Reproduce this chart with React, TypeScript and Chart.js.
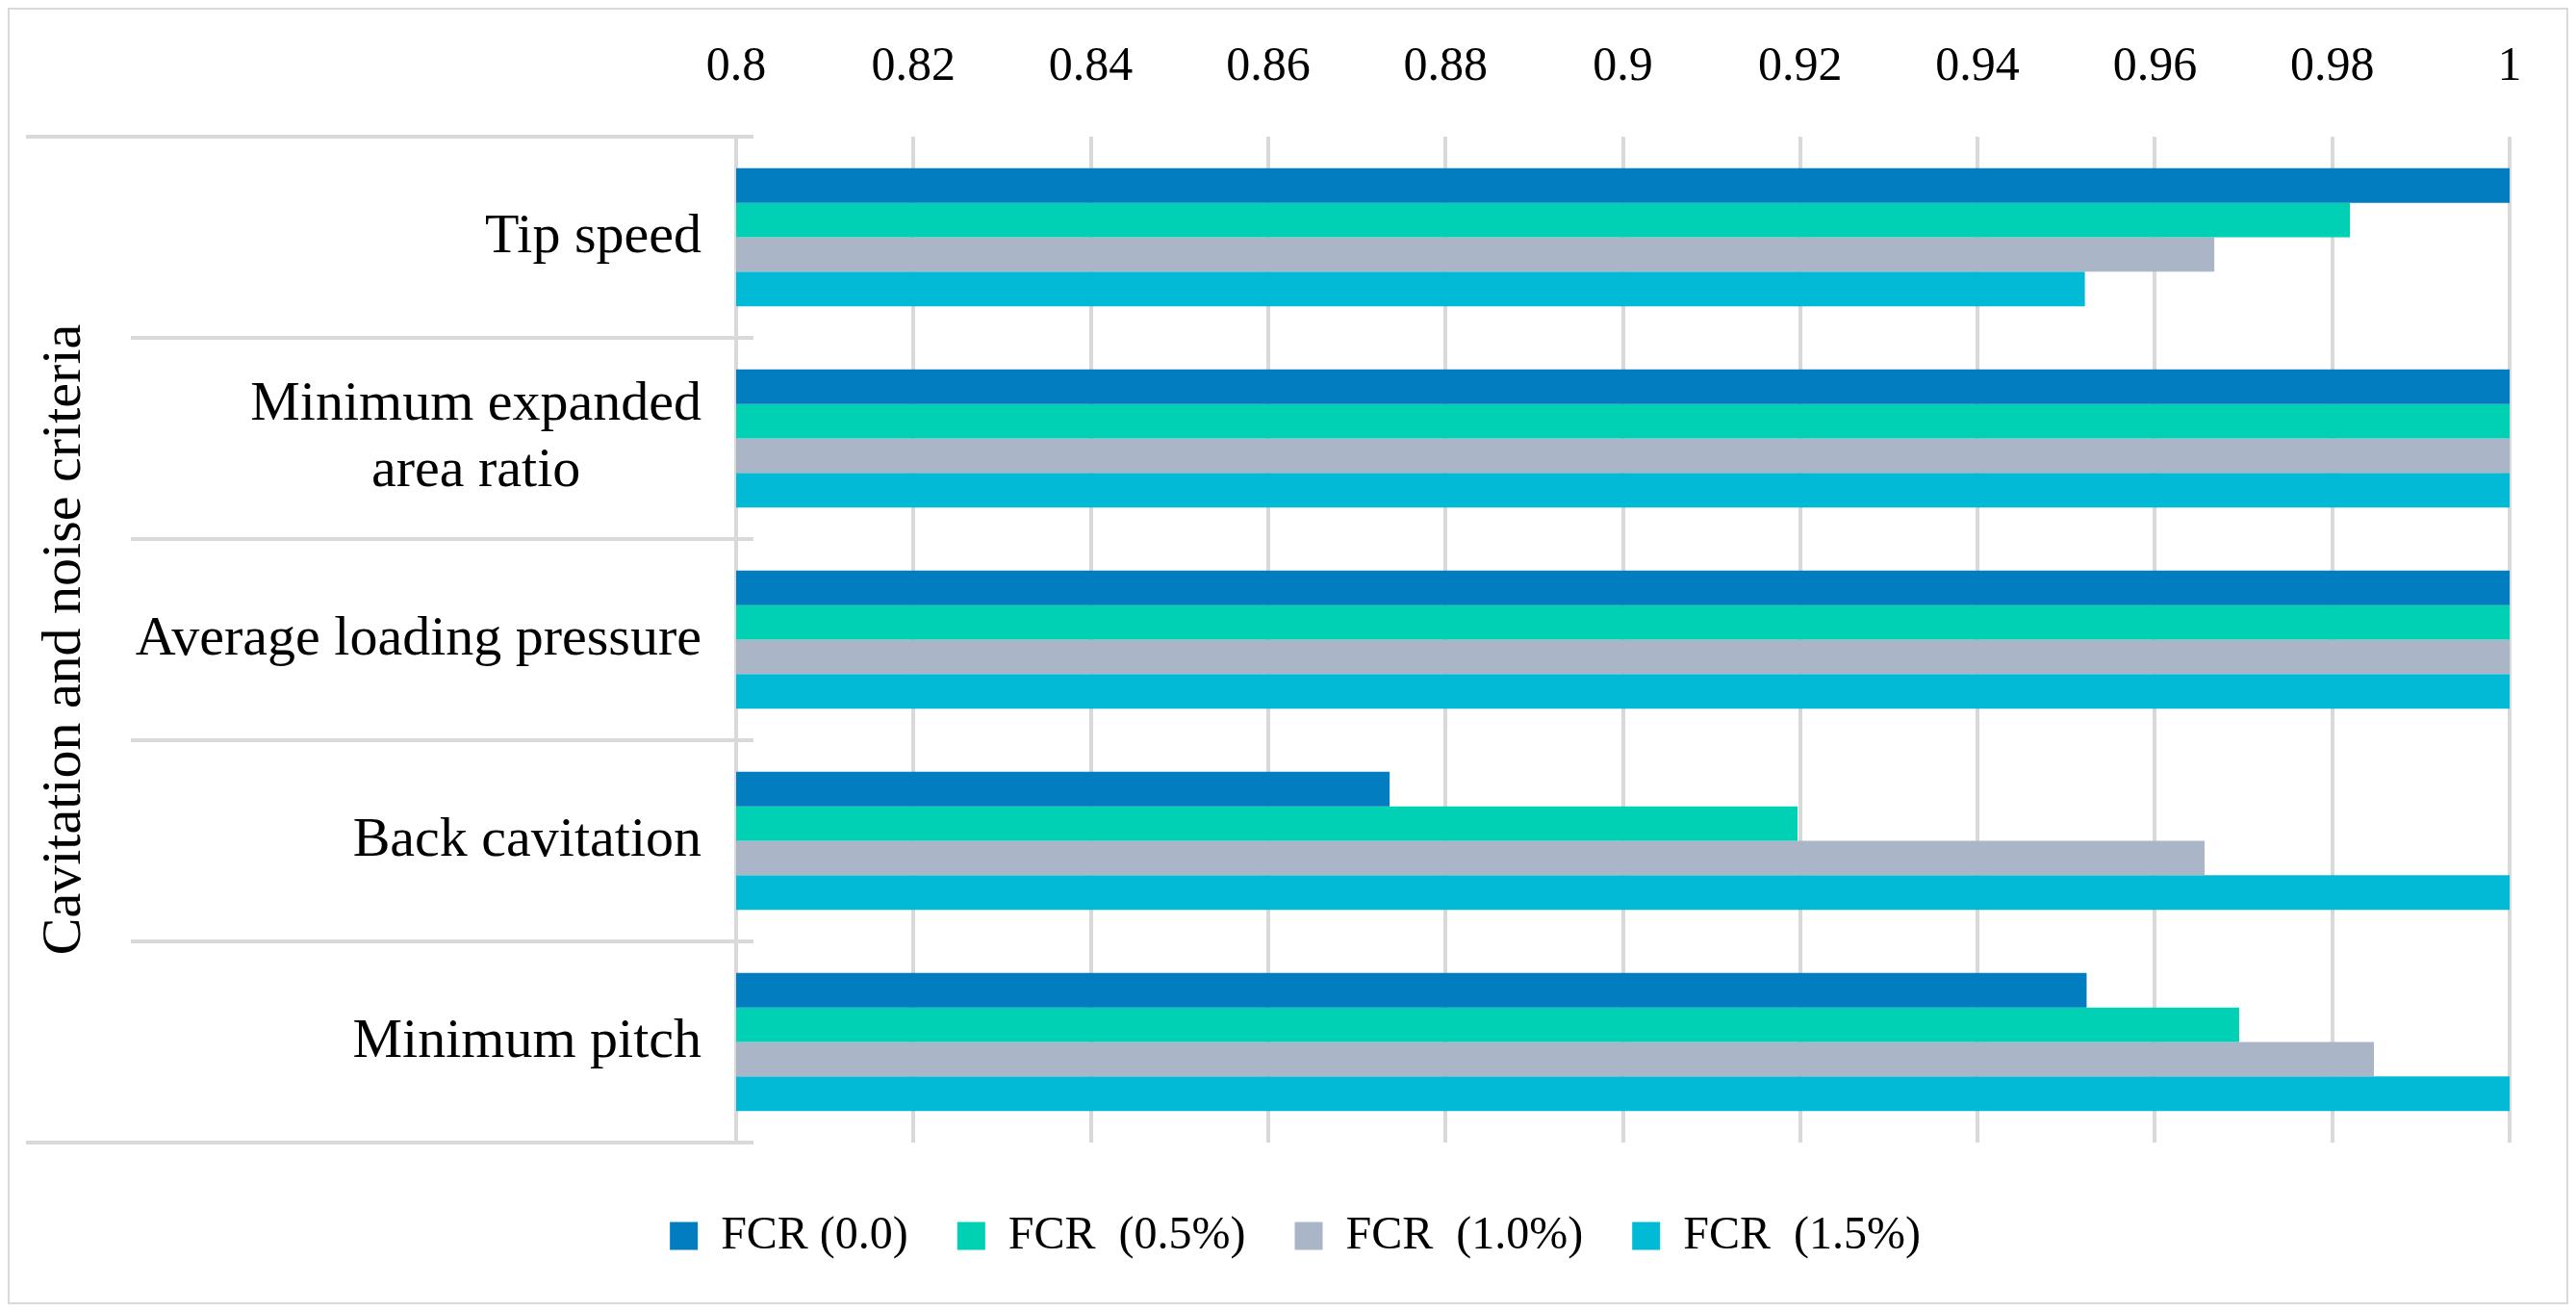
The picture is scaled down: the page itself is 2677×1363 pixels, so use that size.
import { useEffect, useRef } from "react";
import Chart from "chart.js/auto";

const categories: (string | string[])[] = [
  "Tip speed",
  ["Minimum expanded", "area ratio"],
  "Average loading pressure",
  "Back cavitation",
  "Minimum pitch",
];
const axisTitle = "Cavitation and noise criteria";

const seriesNames = ["FCR (0.0)", "FCR  (0.5%)", "FCR  (1.0%)", "FCR  (1.5%)"];
const seriesColors = ["#027dc0", "#00d0b3", "#aab6c7", "#00bad6"];

const fcr00 = [1, 1, 1, 0.8737, 0.9523];
const fcr05 = [0.982, 1, 1, 0.9197, 0.9695];
const fcr10 = [0.9667, 1, 1, 0.9656, 0.9847];
const fcr15 = [0.9521, 1, 1, 1, 1];

const xTickLabels = ["0.8", "0.82", "0.84", "0.86", "0.88", "0.9", "0.92", "0.94", "0.96", "0.98", "1"];

const FONT = "'Liberation Serif', 'Times New Roman', serif";
const GRID = "#d9d9d9";

// Excel-style category axis: separators, labels (multi-line centred) and the rotated title
const categoryFrame = {
  id: "categoryFrame",
  afterDraw(chart: any) {
    const { ctx } = chart;
    const x = chart.scales.x;
    const y = chart.scales.y;
    const n = categories.length;
    const step = (y.bottom - y.top) / n;
    ctx.save();
    ctx.strokeStyle = GRID;
    ctx.lineWidth = 4;
    for (let i = 0; i <= n; i++) {
      const py = Math.round(y.top + i * step);
      const x0 = i === 0 || i === n ? x.left - 738 : x.left - 629;
      ctx.beginPath();
      ctx.moveTo(x0, py);
      ctx.lineTo(x.left + 18, py);
      ctx.stroke();
    }
    ctx.font = `58px ${FONT}`;
    ctx.fillStyle = "#000";
    ctx.textAlign = "center";
    ctx.textBaseline = "middle";
    categories.forEach((label, i) => {
      const lines = Array.isArray(label) ? label : [label];
      const w = Math.max(...lines.map((l) => ctx.measureText(l).width));
      const cx = x.left - 36 - w / 2;
      const cy = y.getPixelForValue(i);
      lines.forEach((l, j) => {
        ctx.fillText(l, cx, cy + (j - (lines.length - 1) / 2) * 69);
      });
    });
    ctx.translate(x.left - 697, (y.top + y.bottom) / 2);
    ctx.rotate(-Math.PI / 2);
    ctx.fillText(axisTitle, 0, 0);
    ctx.restore();
  },
};

export default function App() {
  const canvasRef = useRef<HTMLCanvasElement>(null);

  useEffect(() => {
    if (!canvasRef.current) return;
    const data = [fcr00, fcr05, fcr10, fcr15];
    const chart = new Chart(canvasRef.current, {
      type: "bar",
      data: {
        labels: categories.map((c) => (Array.isArray(c) ? c.join(" ") : c)),
        datasets: seriesNames.map((name, i) => ({
          label: name,
          data: data[i],
          backgroundColor: seriesColors[i],
          borderWidth: 0,
          categoryPercentage: 0.686,
          barPercentage: 1,
        })),
      },
      options: {
        indexAxis: "y",
        responsive: true,
        maintainAspectRatio: false,
        animation: false,
        layout: { padding: { top: 23, right: 59, bottom: 35, left: 74 } },
        plugins: {
          tooltip: { enabled: false },
          legend: {
            position: "bottom",
            title: { display: true, text: "", padding: 0, font: { size: 22, lineHeight: 1 } },
            labels: {
              boxWidth: 29,
              boxHeight: 29,
              padding: 51,
              color: "#000",
              font: { family: FONT, size: 48 },
            },
          },
        },
        scales: {
          x: {
            position: "top",
            min: 0.8,
            max: 1,
            ticks: {
              stepSize: 0.02,
              padding: 42,
              color: "#000",
              font: { family: FONT, size: 50 },
              callback: (_v: any, i: number) => xTickLabels[i],
            },
            grid: { color: GRID, lineWidth: 4, drawTicks: false },
            border: { display: false },
            afterFit: (scale: any) => {
              scale.height = 109;
            },
          },
          y: {
            ticks: { display: false },
            grid: { display: false },
            border: { display: false },
            afterFit: (scale: any) => {
              scale.width = 681;
            },
          },
        },
      },
      plugins: [categoryFrame],
    });
    return () => chart.destroy();
  }, []);

  return (
    <div
      style={{
        width: 2661,
        height: 1347,
        border: `2px solid ${GRID}`,
        boxSizing: "border-box",
        background: "#fff",
      }}
    >
      <div style={{ position: "relative", width: "100%", height: "100%" }}>
        <canvas ref={canvasRef} />
      </div>
    </div>
  );
}
